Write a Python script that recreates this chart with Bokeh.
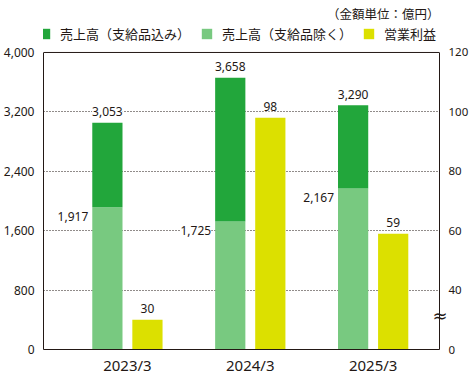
from bokeh.plotting import figure
from bokeh.models import (ColumnDataSource, Range1d, LinearAxis, FixedTicker, LabelSet,
                          Label, Legend, LegendItem, NumeralTickFormatter, Span)
from bokeh.core.properties import value
from bokeh.transform import dodge
from bokeh.embed import file_html
from bokeh.resources import INLINE

# ---- data ----
years = ["2023/3", "2024/3", "2025/3"]
sales_incl = [3053, 3658, 3290]     # 売上高（支給品込み）
sales_excl = [1917, 1725, 2167]     # 売上高（支給品除く）
op_profit = [30, 98, 59]            # 営業利益 (right axis)
left_ticks = [0, 800, 1600, 2400, 3200, 4000]
right_ticks = [20, 40, 60, 80, 100, 120]          # 20 is drawn as "0" (axis break)
right_tick_labels = ["0", "40", "60", "80", "100", "120"]
break_tick = [31.5]                               # where the "≈" break mark sits
legend_labels = ["売上高（支給品込み）", "売上高（支給品除く）", "営業利益"]
unit_note = "（金額単位：億円）"

DARK = "#22a63b"
LIGHT = "#78c980"
YELLOW = "#dce000"
TEXT = "#231815"
JP = "Noto Sans CJK JP"
NUM = "Noto Sans"

xs = list(range(len(years)))
Y_TOP = 4000          # top of the boxed area
Y_END = 4700          # extra room above the box for legend and unit note
RATIO = 40            # left units per right unit; right 20 (shown 0) at left 0

p = figure(frame_width=396, frame_height=349, title=None,
           x_range=Range1d(-0.683, 2.54), y_range=Range1d(0, Y_END),
           output_backend="svg", toolbar_location=None,
           min_border_left=34, min_border_right=23, min_border_top=0, min_border_bottom=18)
p.extra_y_ranges = {"profit": Range1d(20, 20 + Y_END / RATIO)}
p.background_fill_color = "white"
p.border_fill_color = "white"
p.outline_line_color = None

src = ColumnDataSource(dict(
    x=xs, incl=sales_incl, excl=sales_excl, profit=op_profit,
    incl_txt=[f"{v:,}" for v in sales_incl],
    excl_txt=[f"{v:,}" for v in sales_excl],
    profit_txt=[f"{v:,}" for v in op_profit],
))

OFF, W = 0.163, 0.246
light = p.vbar(x=dodge("x", -OFF, range=p.x_range), bottom=0, top="excl", width=W,
               source=src, fill_color=LIGHT, line_color=None)
dark = p.vbar(x=dodge("x", -OFF, range=p.x_range), bottom="excl", top="incl", width=W,
              source=src, fill_color=DARK, line_color=None)
prof = p.vbar(x=dodge("x", OFF, range=p.x_range), bottom=20, top="profit", width=W,
              source=src, fill_color=YELLOW, line_color=None, y_range_name="profit")

# axes
p.xaxis.ticker = FixedTicker(ticks=xs)
p.xaxis.major_label_overrides = {i: y for i, y in enumerate(years)}
p.xaxis.major_label_text_font = NUM
p.xaxis.major_label_text_font_size = "15px"
p.xaxis.major_label_text_color = TEXT
p.xaxis.major_label_standoff = -1
p.xaxis.major_tick_line_color = None
p.xaxis.minor_tick_line_color = None
p.xaxis.axis_line_color = TEXT

p.yaxis.ticker = FixedTicker(ticks=left_ticks)
p.yaxis.bounds = (0, Y_TOP)
p.yaxis.formatter = NumeralTickFormatter(format="0,0")
p.yaxis.major_label_text_font = NUM
p.yaxis.major_label_text_font_size = "12px"
p.yaxis.major_label_text_color = TEXT
p.yaxis.major_label_standoff = 3
p.yaxis.major_tick_line_color = None
p.yaxis.minor_tick_line_color = None
p.yaxis.axis_line_color = TEXT

ry = LinearAxis(y_range_name="profit", ticker=FixedTicker(ticks=right_ticks),
                bounds=(20, 20 + Y_TOP / RATIO),
                major_label_overrides=dict(zip(right_ticks, right_tick_labels)))
ry.major_label_text_font = NUM
ry.major_label_text_font_size = "11.5px"
ry.major_label_text_color = TEXT
ry.major_label_standoff = 3
ry.major_tick_line_color = None
ry.minor_tick_line_color = None
ry.axis_line_color = TEXT
p.add_layout(ry, "right")

# "≈" break mark, drawn as a tick label pulled back onto the right axis line
brk = LinearAxis(y_range_name="profit", ticker=FixedTicker(ticks=break_tick),
                 major_label_overrides={break_tick[0]: "≈"})
brk.major_label_text_font = "DejaVu Sans"
brk.major_label_text_font_size = "18px"
brk.major_label_text_color = TEXT
brk.major_label_standoff = -45
brk.major_tick_line_color = None
brk.minor_tick_line_color = None
brk.axis_line_color = None
if "major_label_background_fill_color" in LinearAxis.properties():
    brk.major_label_background_fill_color = "white"
p.add_layout(brk, "right")

# top edge of the box
p.add_layout(Span(location=Y_TOP, dimension="width", line_color=TEXT, line_width=1))

p.xgrid.visible = False
p.ygrid.ticker = FixedTicker(ticks=left_ticks[1:-1])
p.ygrid.grid_line_color = TEXT
p.ygrid.grid_line_dash = "1 2"
p.ygrid.grid_line_width = 1

# value labels
common = dict(text_font=value(NUM), text_font_size=value("12px"), text_color=TEXT,
              background_fill_color="white", level="overlay")
p.add_layout(LabelSet(x=dodge("x", -OFF, range=p.x_range), y="incl", text="incl_txt", source=src,
                      text_align="center", text_baseline="middle", y_offset=11, **common))
p.add_layout(LabelSet(x=dodge("x", -OFF - W / 2, range=p.x_range), y="excl", text="excl_txt",
                      source=src, text_align="right", text_baseline="middle",
                      x_offset=-4, y_offset=-9, **common))
p.add_layout(LabelSet(x=dodge("x", OFF, range=p.x_range), y="profit", text="profit_txt",
                      source=src, y_range_name="profit", text_align="center",
                      text_baseline="middle", y_offset=11, **common))

# unit note
p.add_layout(Label(x=p.x_range.end, y=Y_TOP, y_offset=39, text=unit_note,
                   text_font=JP, text_font_size="12.5px", text_color=TEXT,
                   text_align="right", text_baseline="middle", level="overlay"))

legend = Legend(items=[LegendItem(label=legend_labels[0], renderers=[dark]),
                       LegendItem(label=legend_labels[1], renderers=[light]),
                       LegendItem(label=legend_labels[2], renderers=[prof])],
                orientation="horizontal", location=(-5, 306),
                glyph_width=13, glyph_height=13, label_height=13, label_standoff=9, spacing=10,
                padding=0, margin=0, border_line_color=None, background_fill_alpha=0,
                label_text_font=JP, label_text_font_size="13px", label_text_color=TEXT)
p.add_layout(legend)

open("out.html", "w").write(file_html(p, INLINE))
